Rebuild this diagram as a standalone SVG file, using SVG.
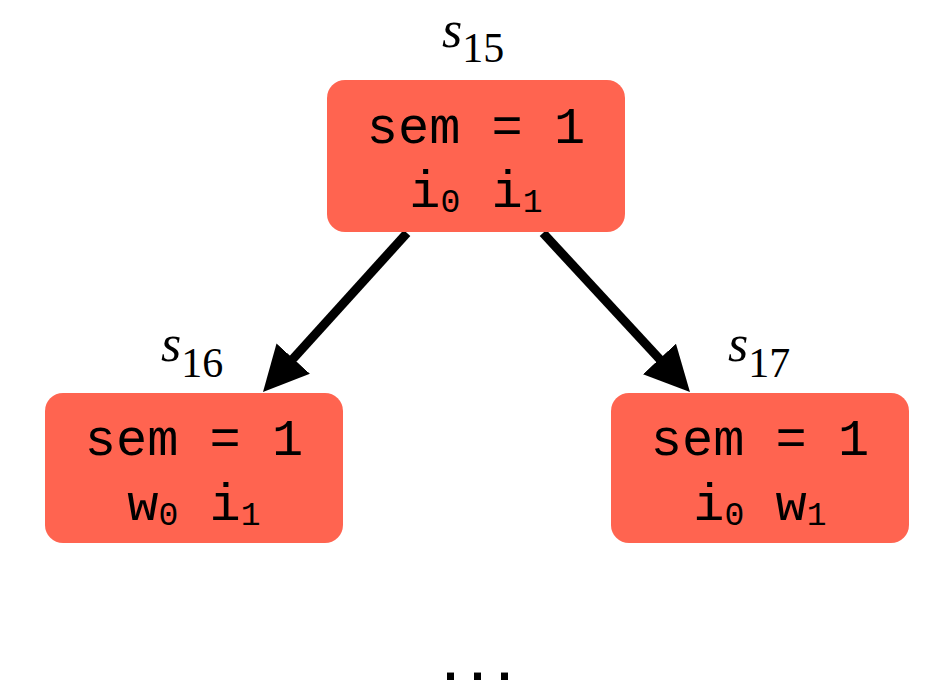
<svg xmlns="http://www.w3.org/2000/svg" width="928" height="696" viewBox="0 0 928 696">
<style>
.box{fill:#FF6450}
.code{font-family:"Liberation Mono","Courier New",monospace;font-size:52px;fill:#000;text-anchor:middle}
.sub{font-size:33px}
.lbl{font-family:"Liberation Serif","Times New Roman",serif;font-size:52px;fill:#000}
.lbl .s{font-style:italic}
.lbl .n{font-size:42px}
.edge{stroke:#000;stroke-width:9;fill:none}
</style>
<defs>
<marker id="ah" markerUnits="userSpaceOnUse" markerWidth="46" markerHeight="46" refX="10" refY="22.5" orient="auto" viewBox="0 0 46 46">
<path d="M0,0 L45,22.5 L0,45 z" fill="#000"/>
</marker>
</defs>
<rect width="928" height="696" fill="#fff"/>
<g id="edges">
<line class="edge" x1="407" y1="233" x2="286.5" y2="366" marker-end="url(#ah)"/>
<line class="edge" x1="543" y1="233" x2="666.2" y2="366.3" marker-end="url(#ah)"/>
</g>
<g id="s15">
<text class="lbl" x="442" y="47"><tspan class="s">s</tspan><tspan class="n" dy="15">15</tspan></text>
<rect class="box" x="327" y="80" width="298" height="152" rx="18"/>
<text class="code" x="476" y="143">sem = 1</text>
<text class="code" x="476" y="207">i<tspan class="sub" dy="5">0</tspan><tspan dy="-5"> i</tspan><tspan class="sub" dy="5">1</tspan></text>
</g>
<g id="s16">
<text class="lbl" x="161" y="361"><tspan class="s">s</tspan><tspan class="n" dy="16">16</tspan></text>
<rect class="box" x="45" y="393" width="298" height="150" rx="18"/>
<text class="code" x="194" y="455">sem = 1</text>
<text class="code" x="194" y="520">w<tspan class="sub" dy="5">0</tspan><tspan dy="-5"> i</tspan><tspan class="sub" dy="5">1</tspan></text>
</g>
<g id="s17">
<text class="lbl" x="728" y="361"><tspan class="s">s</tspan><tspan class="n" dy="16">17</tspan></text>
<rect class="box" x="611" y="393" width="298" height="150" rx="18"/>
<text class="code" x="760" y="455">sem = 1</text>
<text class="code" x="760" y="520">i<tspan class="sub" dy="5">0</tspan><tspan dy="-5"> w</tspan><tspan class="sub" dy="5">1</tspan></text>
</g>
<text x="476" y="680" font-family="Liberation Mono, monospace" font-weight="bold" font-size="50" letter-spacing="-3" text-anchor="middle" fill="#000">...</text>
</svg>
